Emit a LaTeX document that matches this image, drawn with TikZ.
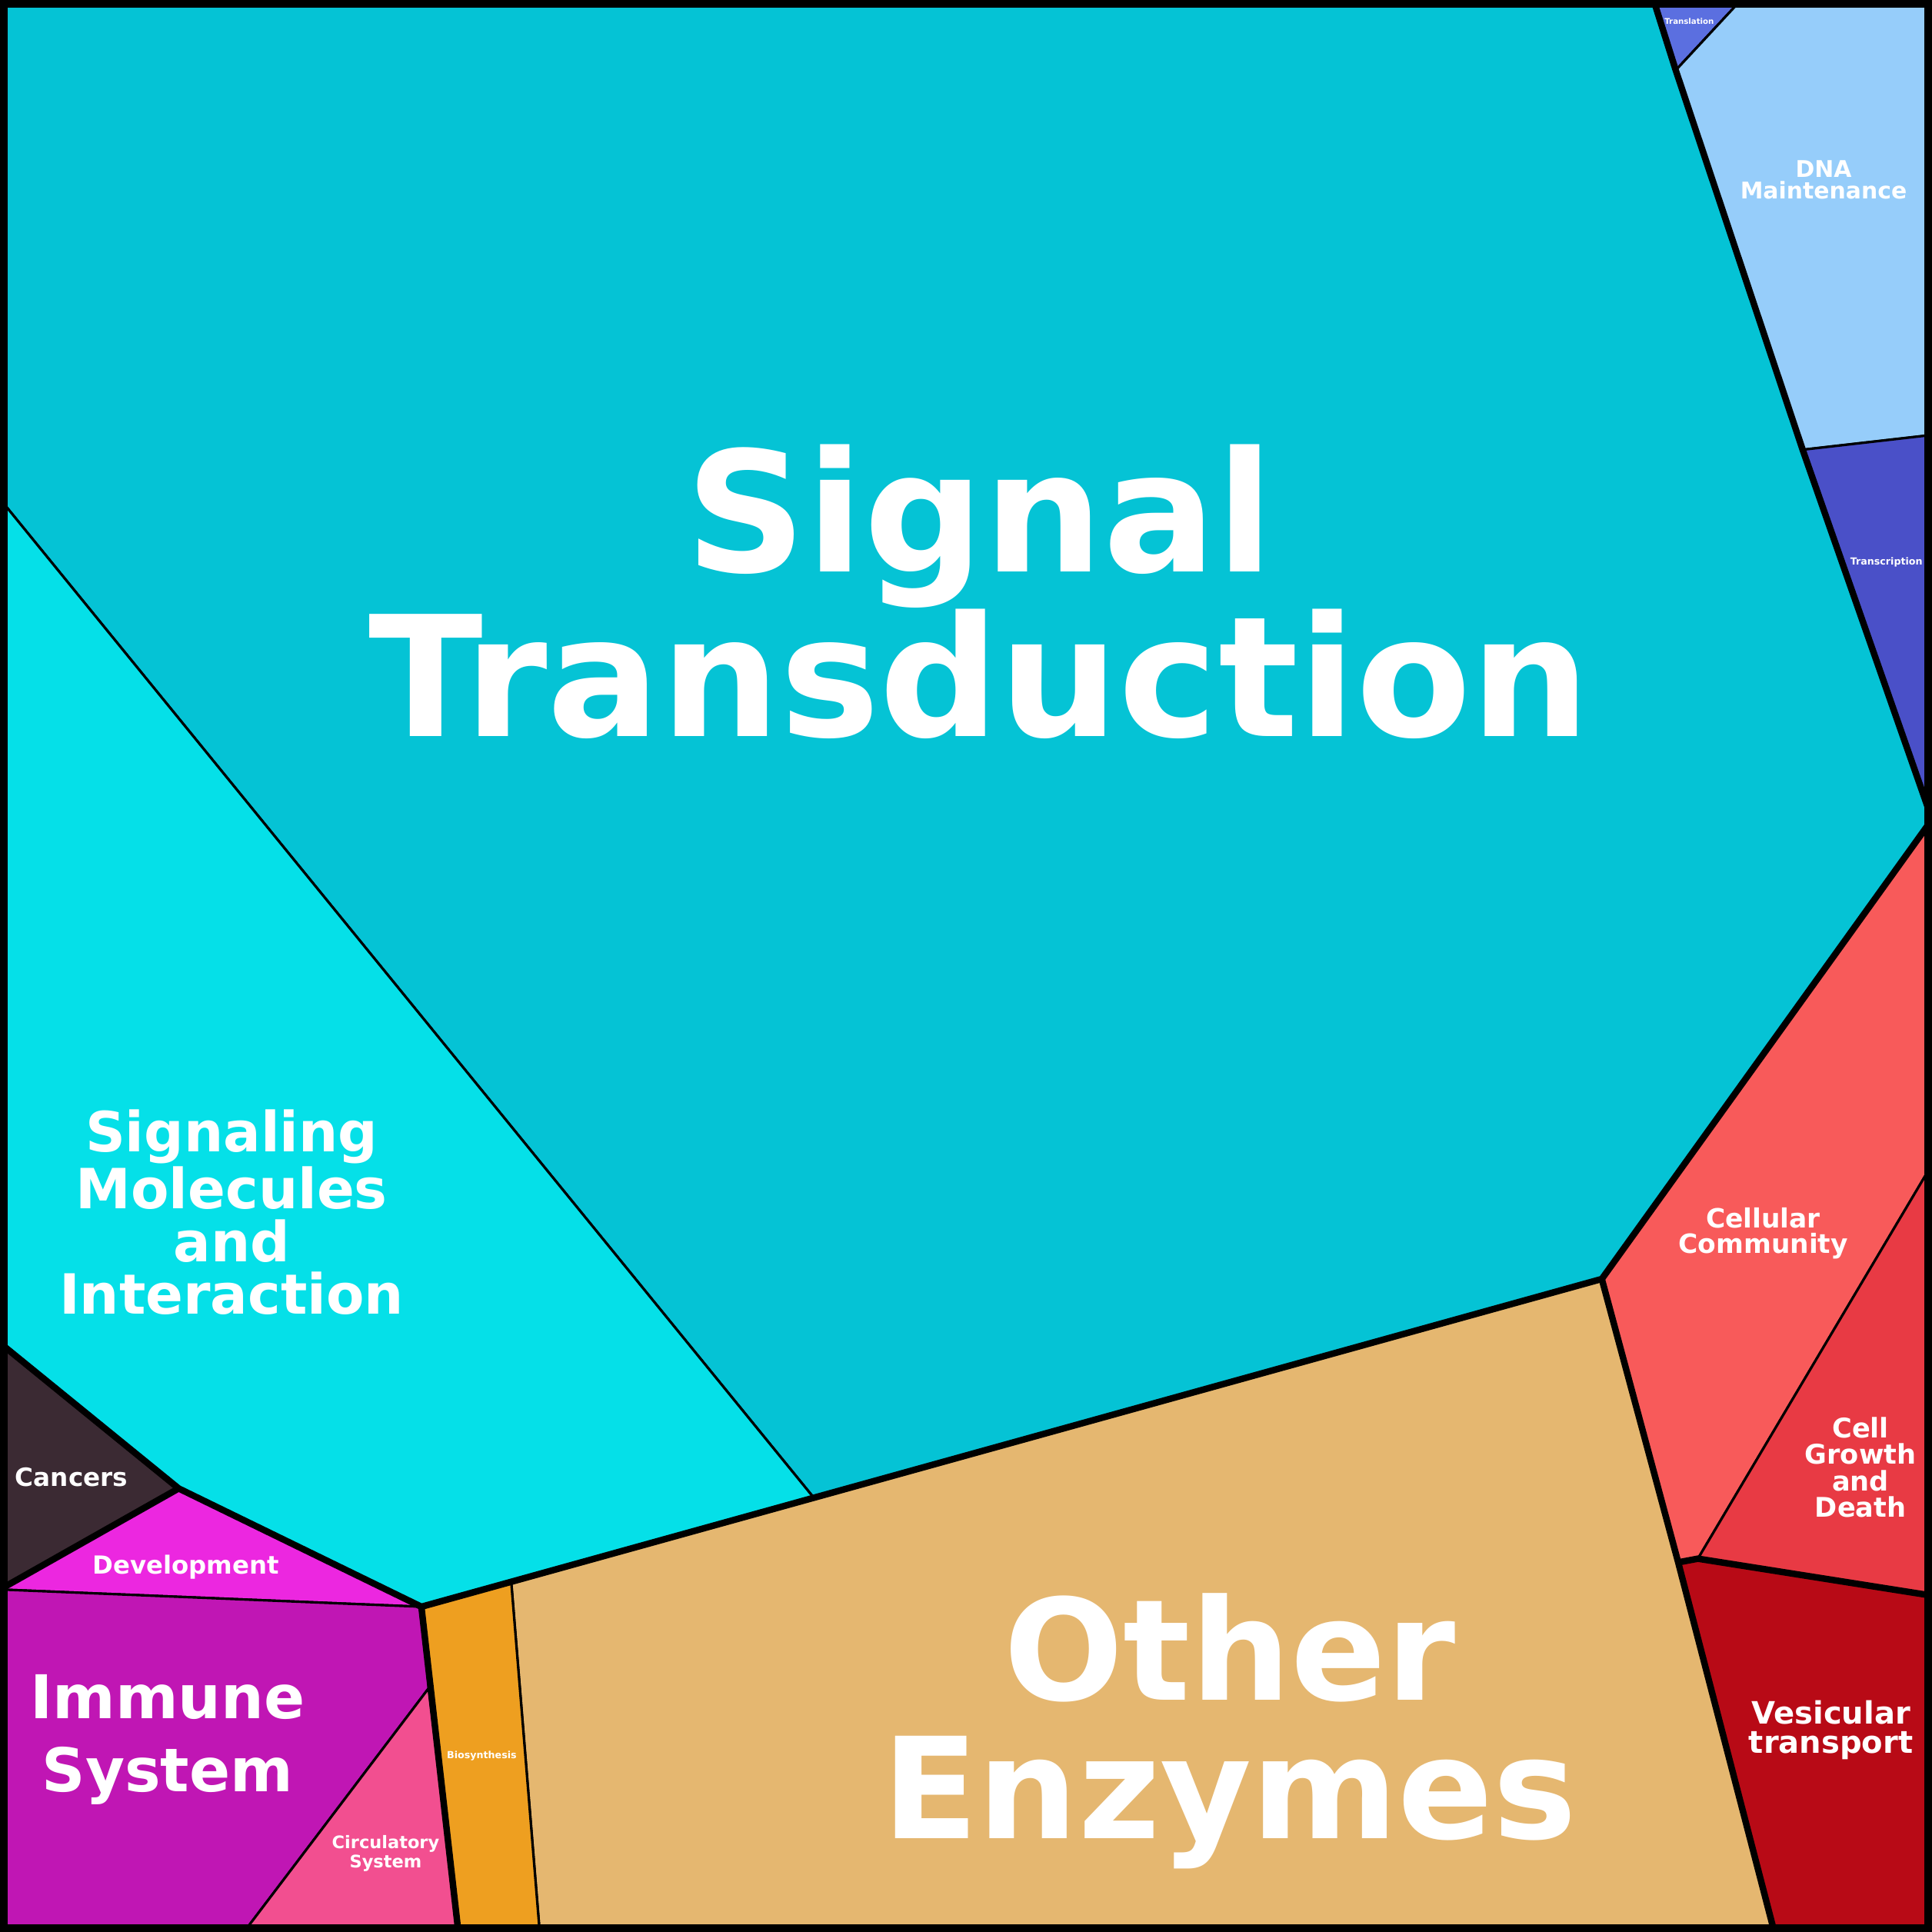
\documentclass[tikz,border=0pt]{standalone}
\usepackage{fontspec}
\setmainfont{DejaVu Sans}
\begin{document}
\begin{tikzpicture}[x=0.01602cm,y=-0.01602cm,line join=round,
 cell/.style={draw=black,line width=0.9pt},
 thick/.style={draw=black,line width=2.4pt},
 lab/.style={text=white,font=\bfseries,align=center,inner sep=0pt}]
\useasboundingbox (0,0) rectangle (1568,1568);
\definecolor{cST}{HTML}{05C3D5}\definecolor{cSM}{HTML}{05E0E8}
\definecolor{cTl}{HTML}{5B6FE0}\definecolor{cDNA}{HTML}{96CDFA}
\definecolor{cTc}{HTML}{4A50C8}\definecolor{cCC}{HTML}{F85A5A}
\definecolor{cCG}{HTML}{E83A44}\definecolor{cVT}{HTML}{B80A16}
\definecolor{cOE}{HTML}{E5B770}\definecolor{cBS}{HTML}{EE9F20}
\definecolor{cCa}{HTML}{3B2A33}\definecolor{cDe}{HTML}{EC27E0}
\definecolor{cIS}{HTML}{C016B4}\definecolor{cCS}{HTML}{F24F90}
\fill[cST,cell] (0,0)--(1342,0)--(1360,57)--(1463,365)--(1568,665)--(1300,1038)--(660,1215)--(0,405)--cycle;
\fill[cTl,cell] (1342,0)--(1413,0)--(1360,57)--cycle;
\fill[cDNA,cell] (1413,0)--(1568,0)--(1568,353)--(1463,365)--(1360,57)--cycle;
\fill[cTc,cell] (1463,365)--(1568,353)--(1568,665)--cycle;
\fill[cCC,cell] (1568,665)--(1568,945)--(1378,1265)--(1362,1268)--(1300,1038)--cycle;
\fill[cCG,cell] (1568,945)--(1568,1295)--(1378,1265)--cycle;
\fill[cVT,cell] (1362,1268)--(1378,1265)--(1568,1295)--(1568,1568)--(1440,1568)--cycle;
\fill[cOE,cell] (1300,1038)--(1362,1268)--(1440,1568)--(438,1568)--(415,1285)--(660,1215)--cycle;
\fill[cBS,cell] (342,1304)--(415,1285)--(438,1568)--(372,1568)--cycle;
\fill[cSM,cell] (0,405)--(660,1215)--(415,1285)--(342,1304)--(145,1208)--(0,1090)--cycle;
\fill[cCa,cell] (0,1090)--(145,1208)--(0,1290)--cycle;
\fill[cDe,cell] (0,1290)--(145,1208)--(342,1304)--cycle;
\fill[cIS,cell] (0,1290)--(342,1304)--(348,1370)--(198,1568)--(0,1568)--cycle;
\fill[cCS,cell] (348,1370)--(372,1568)--(198,1568)--cycle;
\draw[thick] (1342,0)--(1360,57)--(1463,365)--(1568,665)--(1300,1038)--(342,1304)--(145,1208)--(0,1090);
\draw[thick] (1300,1038)--(1362,1268)--(1440,1568);
\draw[thick] (1362,1268)--(1378,1265)--(1568,1295);
\draw[thick] (342,1304)--(372,1568);
\draw[thick] (145,1208)--(0,1290);
\draw[draw=black,line width=4pt] (2,2) rectangle (1566,1566);
\node[lab,font=\bfseries\fontsize{62}{61}\selectfont] (st) at (795,480) {Signal\\Transduction};
\node[lab,font=\bfseries\fontsize{52}{51}\selectfont] (oe) at (998,1405) {Other\\Enzymes};
\node[lab,font=\bfseries\fontsize{20.5}{19.5}\selectfont] (sm) at (188,984) {Signaling\\Molecules\\and\\Interaction};
\node[lab,font=\bfseries\fontsize{22.3}{27}\selectfont] (is) at (136,1412) {Immune\\System};
\node[lab,font=\bfseries\fontsize{8.5}{8}\selectfont] (dna) at (1480,146) {DNA\\Maintenance};
\node[lab,font=\bfseries\fontsize{9.8}{9.3}\selectfont] (cc) at (1431,1001) {Cellular\\Community};
\node[lab,font=\bfseries\fontsize{10}{9.8}\selectfont] (cg) at (1510,1191) {Cell\\Growth\\and\\Death};
\node[lab,font=\bfseries\fontsize{11.4}{10.8}\selectfont] (vt) at (1486,1404) {Vesicular\\transport};
\node[lab,font=\bfseries\fontsize{9.3}{9}\selectfont] (ca) at (58,1199) {Cancers};
\node[lab,font=\bfseries\fontsize{9.2}{9}\selectfont] (de) at (151,1272) {Development};
\node[lab,font=\bfseries\fontsize{6.4}{6}\selectfont] (cs) at (313,1504) {Circulatory\\System};
\node[lab,font=\bfseries\fontsize{3.6}{3.5}\selectfont] (bs) at (391,1425) {Biosynthesis};
\node[lab,font=\bfseries\fontsize{2.9}{3}\selectfont] (tl) at (1371,17) {Translation};
\node[lab,font=\bfseries\fontsize{3.6}{3}\selectfont] (tc) at (1531,456) {Transcription};
\end{tikzpicture}
\end{document}
